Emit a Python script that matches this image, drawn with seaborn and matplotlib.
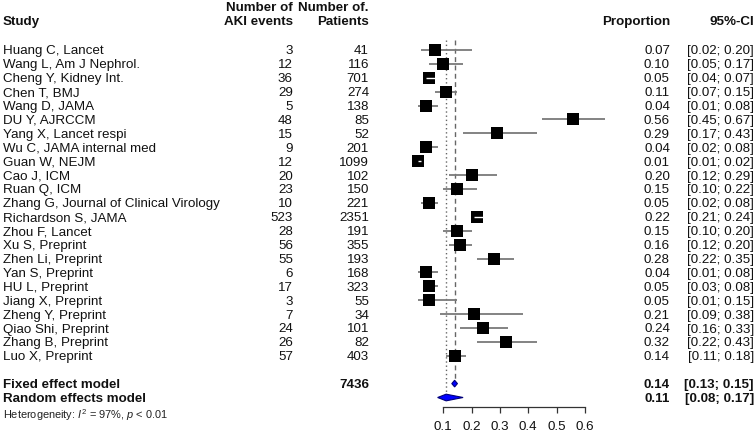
import numpy as np
import pandas as pd
import matplotlib
matplotlib.use("Agg")
import matplotlib.pyplot as plt
import seaborn as sns
from matplotlib.transforms import blended_transform_factory

# ---------------- data ----------------
studies = [
    "Huang C, Lancet", "Wang L, Am J Nephrol.", "Cheng Y, Kidney Int.", "Chen T, BMJ",
    "Wang D, JAMA", "DU Y, AJRCCM", "Yang X, Lancet respi", "Wu C, JAMA internal med",
    "Guan W, NEJM", "Cao J, ICM", "Ruan Q, ICM", "Zhang G, Journal of Clinical Virology",
    "Richardson S, JAMA", "Zhou F, Lancet", "Xu S, Preprint", "Zhen Li, Preprint",
    "Yan S, Preprint", "HU L, Preprint", "Jiang X, Preprint", "Zheng Y, Preprint",
    "Qiao Shi, Preprint", "Zhang B, Preprint", "Luo X, Preprint",
]
events = [3, 12, 36, 29, 5, 48, 15, 9, 12, 20, 23, 10, 523, 28, 56, 55, 6, 17, 3, 7, 24, 26, 57]
patients = [41, 116, 701, 274, 138, 85, 52, 201, 1099, 102, 150, 221, 2351, 191, 355, 193,
            168, 323, 55, 34, 101, 82, 403]
proportion = [0.07, 0.10, 0.05, 0.11, 0.04, 0.56, 0.29, 0.04, 0.01, 0.20, 0.15, 0.05, 0.22,
              0.15, 0.16, 0.28, 0.04, 0.05, 0.05, 0.21, 0.24, 0.32, 0.14]
ci_lower = [0.02, 0.05, 0.04, 0.07, 0.01, 0.45, 0.17, 0.02, 0.01, 0.12, 0.10, 0.02, 0.21,
            0.10, 0.12, 0.22, 0.01, 0.03, 0.01, 0.09, 0.16, 0.22, 0.11]
ci_upper = [0.20, 0.17, 0.07, 0.15, 0.08, 0.67, 0.43, 0.08, 0.02, 0.29, 0.22, 0.08, 0.24,
            0.20, 0.20, 0.35, 0.08, 0.08, 0.15, 0.38, 0.33, 0.43, 0.18]
fixed_est, fixed_lo, fixed_hi = 0.14, 0.13, 0.15
random_est, random_lo, random_hi = 0.11, 0.08, 0.17
i2_value = "97%"
p_value = "< 0.01"
x_ticks = [0.1, 0.2, 0.3, 0.4, 0.5, 0.6]

# ---------------- style ----------------
sns.set_theme(style="white")
plt.rcParams['font.family'] = ['Liberation Sans', 'DejaVu Sans']
plt.rcParams['mathtext.fontset'] = 'custom'
plt.rcParams['mathtext.rm'] = 'Liberation Sans'
plt.rcParams['mathtext.it'] = 'Liberation Sans:italic'

W, H = 756, 432
fig = plt.figure(figsize=(W / 100, H / 100), dpi=100)
axis_px = 407
ax = fig.add_axes([0, (H - axis_px) / H, 1, axis_px / H])

x0px, scale = 415, 283          # pixel of value 0, pixels per unit
ax.set_xlim(-x0px / scale, (W - x0px) / scale)
row_px0, row_h = 50, 13.9
def px2row(py):
    return (py - row_px0) / row_h

n = len(studies)
df = pd.DataFrame(dict(study=studies, events=events, patients=patients,
                       prop=proportion, lo=ci_lower, hi=ci_upper, row=np.arange(n)))

fixed_row = n + 1
random_row = n + 2
het_row = px2row(413)

txt_col = '#111111'
line_gray = '#7a7a7a'

# reference lines
ax.vlines(random_est, -0.7, random_row, colors='#666666', linestyles=(0, (1, 2)), lw=1, zorder=1)
ax.vlines(fixed_est, -0.7, fixed_row, colors='#666666', linestyles=(0, (3.5, 2.5)), lw=1, zorder=1)

# CI lines
ax.hlines(df['row'], df['lo'], df['hi'], colors=line_gray, lw=1.3, zorder=2)

# squares
sns.scatterplot(data=df, x='prop', y='row', marker='s', s=85, color='black',
                edgecolor='black', linewidth=0, ax=ax, zorder=3, legend=False)

# white inner CI lines when CI fits inside box
hb = 6 / scale
inner = df[(df['prop'] - df['lo'] <= hb) & (df['hi'] - df['prop'] <= hb)]
ax.hlines(inner['row'], inner['lo'], inner['hi'], colors='white', lw=1.0, zorder=4)

# diamonds
dh = 0.24
for est, lo, hi, r in [(fixed_est, fixed_lo, fixed_hi, fixed_row),
                       (random_est, random_lo, random_hi, random_row)]:
    ax.fill([lo, est, hi, est], [r, r - dh, r, r + dh], facecolor='#0000ff',
            edgecolor='#00007a', lw=0.8, zorder=5)

ax.set_ylim(px2row(axis_px), px2row(0))

# axis
for s in ['top', 'left', 'right']:
    ax.spines[s].set_visible(False)
ax.spines['bottom'].set_bounds(x_ticks[0], x_ticks[-1])
ax.spines['bottom'].set_color('#333333')
ax.spines['bottom'].set_linewidth(0.9)
ax.set_xticks(x_ticks)
ax.set_xticklabels([f"{t:g}" for t in x_ticks])
ax.set_yticks([])
ax.set_xlabel('')
ax.set_ylabel('')
ax.tick_params(axis='x', direction='out', length=4, width=0.9, pad=6,
               labelsize=9.6, colors='#333333', labelcolor=txt_col, bottom=True)

# ---------------- texts ----------------
tr = blended_transform_factory(fig.transFigure, ax.transData)
fs = 9.6
x_study = 3 / W
x_ev = 293 / W
x_pt = 369 / W
x_prop = 670 / W
x_ci = 754 / W

h1 = px2row(7)
h2 = px2row(21)
kw = dict(transform=tr, fontsize=fs, color=txt_col, va='center_baseline')
ax.text(x_study, h2, "Study", ha='left', fontweight='bold', **kw)
ax.text(x_ev, h1, "Number of", ha='right', fontweight='bold', **kw)
ax.text(x_ev, h2, "AKI events", ha='right', fontweight='bold', **kw)
ax.text(x_pt, h1, "Number of.", ha='right', fontweight='bold', **kw)
ax.text(x_pt, h2, "Patients", ha='right', fontweight='bold', **kw)
ax.text(x_prop, h2, "Proportion", ha='right', fontweight='bold', **kw)
ax.text(x_ci, h2, "95%-CI", ha='right', fontweight='bold', **kw)

for _, r in df.iterrows():
    y = r['row']
    ax.text(x_study, y, r['study'], ha='left', **kw)
    ax.text(x_ev, y, f"{int(r['events'])}", ha='right', **kw)
    ax.text(x_pt, y, f"{int(r['patients'])}", ha='right', **kw)
    ax.text(x_prop, y, f"{r['prop']:.2f}", ha='right', **kw)
    ax.text(x_ci, y, f"[{r['lo']:.2f}; {r['hi']:.2f}]", ha='right', **kw)

ax.text(x_study, fixed_row, "Fixed effect model", ha='left', fontweight='bold', **kw)
ax.text(x_pt, fixed_row, f"{int(np.sum(patients))}", ha='right', fontweight='bold', **kw)
ax.text(x_prop, fixed_row, f"{fixed_est:.2f}", ha='right', fontweight='bold', **kw)
ax.text(x_ci, fixed_row, f"[{fixed_lo:.2f}; {fixed_hi:.2f}]", ha='right', fontweight='bold', **kw)
ax.text(x_study, random_row, "Random effects model", ha='left', fontweight='bold', **kw)
ax.text(x_prop, random_row, f"{random_est:.2f}", ha='right', fontweight='bold', **kw)
ax.text(x_ci, random_row, f"[{random_lo:.2f}; {random_hi:.2f}]", ha='right', fontweight='bold', **kw)

ax.text(x_study, het_row, r"Heterogeneity: $I^2$ = " + i2_value + r", $p$ " + p_value,
        transform=tr, fontsize=7.9, color='#222222', ha='left', va='center_baseline')

fig.savefig("out.png", dpi=100)
